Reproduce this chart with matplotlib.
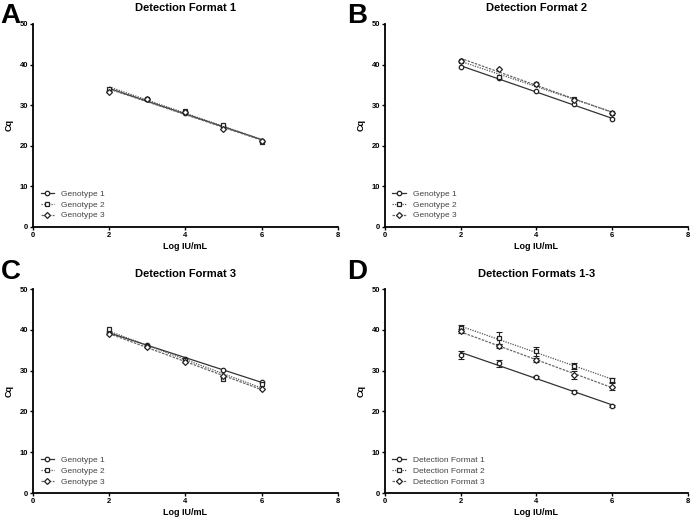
import numpy as np
import matplotlib
matplotlib.use('Agg')
import matplotlib.pyplot as plt

plt.rcParams['font.family'] = ['Liberation Sans', 'DejaVu Sans']

log_iu = [2, 3, 4, 5, 6]

# panel A - detection format 1
a_g1 = [33.6, 31.5, 28.0, 24.8, 21.2]
a_g2 = [33.9, 31.6, 28.6, 25.0, 21.0]
a_g3 = [33.3, 31.5, 28.2, 24.2, 21.2]

# panel B - detection format 2
b_g1 = [39.5, 36.6, 33.4, 30.2, 26.5]
b_g2 = [40.9, 37.0, 35.3, 31.6, 28.0]
b_g3 = [41.0, 38.8, 35.2, 31.3, 28.1]

# panel C - detection format 3
c_g1 = [39.4, 36.2, 32.9, 30.1, 27.3]
c_g2 = [40.2, 36.0, 32.5, 28.0, 26.8]
c_g3 = [39.0, 35.8, 32.1, 28.7, 25.4]

# panel D - mean of genotypes with error bars
d_f1 = [33.9, 31.8, 28.4, 24.8, 21.3]
d_f1_err = [1.0, 0.8, 0.2, 0.4, 0.2]
d_f2 = [40.5, 38.0, 34.7, 31.1, 27.7]
d_f2_err = [0.8, 1.4, 1.1, 0.7, 0.6]
d_f3 = [39.7, 36.0, 32.5, 29.0, 26.1]
d_f3_err = [0.4, 0.5, 0.5, 1.0, 0.8]

geno_labels = ['Genotype 1', 'Genotype 2', 'Genotype 3']
fmt_labels = ['Detection Format 1', 'Detection Format 2', 'Detection Format 3']

markers = ['o', 's', 'D']
msizes = [3.2, 3.4, 3.0]
lstyles = ['-', (0, (1, 1)), (0, (2, 1))]
lcolors = ['#333333', '#555555', '#666666']

fig = plt.figure(figsize=(6.91, 5.17), dpi=100)

positions = [
    [0.0478, 0.561, 0.441, 0.3926],
    [0.557, 0.561, 0.4385, 0.3926],
    [0.0478, 0.0464, 0.441, 0.3946],
    [0.557, 0.0464, 0.4385, 0.3946],
]
titles = ['Detection Format 1', 'Detection Format 2', 'Detection Format 3', 'Detection Formats 1-3']
letters = ['A', 'B', 'C', 'D']
letter_xy = [(0.001, 0.995), (0.502, 0.995), (0.001, 0.499), (0.502, 0.499)]

panels = [
    ([a_g1, a_g2, a_g3], None, geno_labels),
    ([b_g1, b_g2, b_g3], None, geno_labels),
    ([c_g1, c_g2, c_g3], None, geno_labels),
    ([d_f1, d_f2, d_f3], [d_f1_err, d_f2_err, d_f3_err], fmt_labels),
]

x = np.array(log_iu)
for i, (series, errs, labels) in enumerate(panels):
    ax = fig.add_axes(positions[i])
    for j, y in enumerate(series):
        # linear regression line
        k, b = np.polyfit(x, y, 1)
        ax.plot(x, k * x + b, color=lcolors[j], linestyle=lstyles[j], lw=0.9, zorder=2)
        if errs is not None:
            ax.errorbar(x, y, yerr=errs[j], fmt='none', ecolor='#222222',
                        elinewidth=0.8, capsize=2, capthick=0.8, zorder=3)
        ax.plot(x, y, linestyle='none', marker=markers[j], ms=msizes[j],
                mfc='white', mec='#222222', mew=0.9, zorder=4)
        # legend proxy
        ax.plot([], [], color=lcolors[j], linestyle=lstyles[j], lw=0.9,
                marker=markers[j], ms=msizes[j], mfc='white', mec='#222222',
                mew=0.9, label=labels[j])

    ax.set_xlim(0, 8)
    ax.set_ylim(0, 50)
    ax.set_xticks([0, 2, 4, 6, 8])
    ax.set_yticks([0, 10, 20, 30, 40, 50])
    for s in ['top', 'right']:
        ax.spines[s].set_visible(False)
    for s in ['left', 'bottom']:
        ax.spines[s].set_linewidth(1.3)
    ax.tick_params(length=2.5, width=1, labelsize=5.5, pad=1)
    for lab in ax.get_xticklabels() + ax.get_yticklabels():
        lab.set_fontweight('bold')
    ax.set_xlabel('Log IU/mL', fontsize=6.5, fontweight='bold', labelpad=2)
    ax.set_ylabel('Cq', fontsize=6.5, fontweight='bold', labelpad=4)
    ax.set_title(titles[i], fontsize=8, fontweight='bold', pad=9)
    leg = ax.legend(loc='lower left', bbox_to_anchor=(0.0, 0.0), frameon=False,
                    fontsize=6, handlelength=1.6, handletextpad=0.9,
                    labelspacing=0.35, borderaxespad=0.5)
    for t in leg.get_texts():
        t.set_color('#444444')

    fig.text(letter_xy[i][0], letter_xy[i][1], letters[i], fontsize=20,
             fontweight='bold', ha='left', va='top')

fig.savefig('out.png', dpi=100)
